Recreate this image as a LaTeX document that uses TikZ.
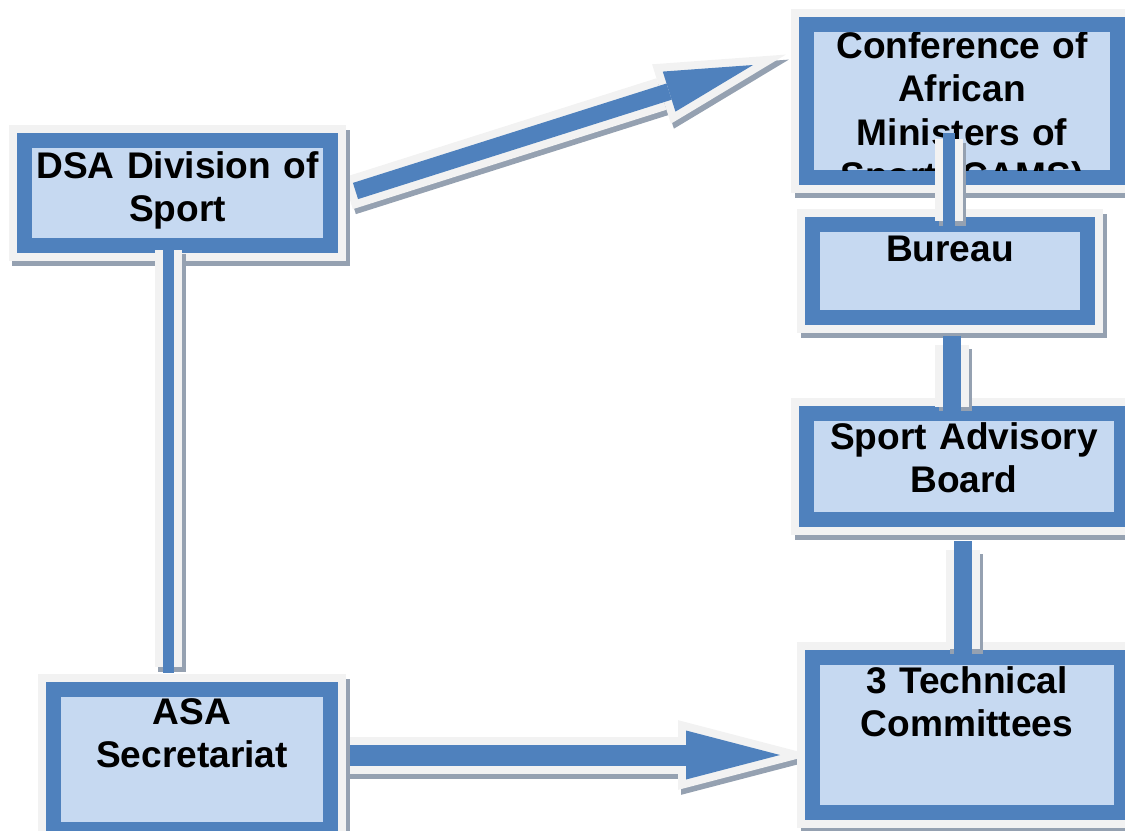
\documentclass[tikz,border=0pt]{standalone}
\usepackage{fontspec}
\setmainfont{Liberation Sans}
\usetikzlibrary{arrows.meta,backgrounds}
\definecolor{boxblue}{HTML}{4F81BD}
\definecolor{boxfill}{HTML}{C6D9F1}
\definecolor{rim}{HTML}{F2F2F2}
\definecolor{shade}{HTML}{95A1B1}
\begin{document}
\begin{tikzpicture}[
  boxtext/.style={rectangle, inner sep=0pt, outer sep=0pt, anchor=base, align=center,
    font=\bfseries\fontsize{10.55}{12.4}\selectfont},
  box/.style={boxtext, fill=boxfill, draw=boxblue, line width=0.15cm,
    preaction={draw=shade, line width=0.31cm, transform canvas={shift={(0.035,-0.045)}}},
    preaction={draw=rim, line width=0.31cm}},
  bar/.style 2 args={draw=boxblue, line cap=rect, line width=#1,
    preaction={draw=shade, line width=#2, transform canvas={shift={(0.035,-0.045)}}},
    preaction={draw=rim, line width=#2}},
  thinbar/.style={bar={0.115cm}{0.275cm}},
  widebar/.style={bar={0.175cm}{0.335cm}},
  blockarrow/.style n args={7}{draw=boxblue, line width=#1,
    -{Triangle[length=#2, width=#3, line width=0pt]},
    preaction={draw=shade, line width=#4, -{Triangle[length=#5, width=#6, line width=0pt]},
      shorten >=-#7, shorten <=-0.08cm, transform canvas={shift={(0.03,-0.05)}}},
    preaction={draw=rim, line width=#4, -{Triangle[length=#5, width=#6, line width=0pt]},
      shorten >=-#7, shorten <=-0.08cm}}
]
\useasboundingbox (0,0) rectangle (11.25,-8.31);

% boxes
\node[box, text width=3.06cm, text height=0.375cm, text depth=0.675cm] (dsa) at (1.775,-1.78) {DSA Division of\\Sport};
\node[box, text width=3.11cm, text height=0.335cm, text depth=1.195cm] (cams) at (9.62,-0.58) {};
\begin{scope}
\clip ([shift={(0.075,0.075)}]cams.south west) rectangle ([shift={(-0.075,-0.075)}]cams.north east);
\node[boxtext, text width=3.11cm] (cams-text) at (cams.base) {Conference of\\African\\Ministers of\\Sport (CAMS)};
\end{scope}
\node[box, text width=2.75cm, text height=0.365cm, text depth=0.565cm] (bureau) at (9.50,-2.61) {Bureau};
\node[box, text width=3.15cm, text height=0.355cm, text depth=0.705cm] (sab) at (9.64,-4.49) {Sport Advisory\\Board};
\node[box, text width=3.09cm, text height=0.355cm, text depth=1.195cm] (tc) at (9.67,-6.93) {3 Technical\\Committees};
\node[box, text width=2.77cm, text height=0.345cm, text depth=1.055cm] (asa) at (1.92,-7.24) {ASA\\Secretariat};

% arrows
\coordinate (dsa-out) at ([xshift=0.25cm,yshift=0.02cm]dsa.east);
\coordinate (cams-in) at ([xshift=-0.535cm,yshift=0.36cm]cams.west);
\coordinate (asa-out) at ([xshift=0.145cm,yshift=0.045cm]asa.east);
\coordinate (tc-side) at (asa-out -| tc.west);
\begin{scope}[on background layer]
\draw[blockarrow={0.17cm}{0.88cm}{0.42cm}{0.33cm}{1.305cm}{0.623cm}{0.345cm}] (dsa-out) -- (cams-in);
\draw[blockarrow={0.21cm}{0.94cm}{0.49cm}{0.37cm}{1.337cm}{0.697cm}{0.317cm}] (asa-out) -- ([xshift=-0.325cm]tc-side);
\end{scope}

% links
\coordinate (dsa-bar) at ([xshift=-0.09cm]dsa.south);
\coordinate (asa-bar) at (dsa-bar |- asa.north);
\draw[thinbar] ([yshift=-0.0425cm]dsa-bar) -- ([yshift=0.2225cm]asa-bar);
\coordinate (bur-top) at ([xshift=-0.01cm]bureau.north);
\coordinate (cams-low) at (bur-top |- cams.south);
\draw[thinbar] ([yshift=0.3875cm]cams-low) -- ([yshift=0.0325cm]bur-top);
\coordinate (bur-low) at ([xshift=0.02cm]bureau.south);
\coordinate (sab-top) at (bur-low |- sab.north);
\draw[widebar] ([yshift=-0.2725cm]bur-low) -- ([yshift=0.0675cm]sab-top);
\coordinate (sab-low) at ([xshift=-0.01cm]sab.south);
\coordinate (tc-top) at (sab-low |- tc.north);
\draw[widebar] ([yshift=-0.3025cm]sab-low) -- ([yshift=0.0825cm]tc-top);
\end{tikzpicture}
\end{document}
